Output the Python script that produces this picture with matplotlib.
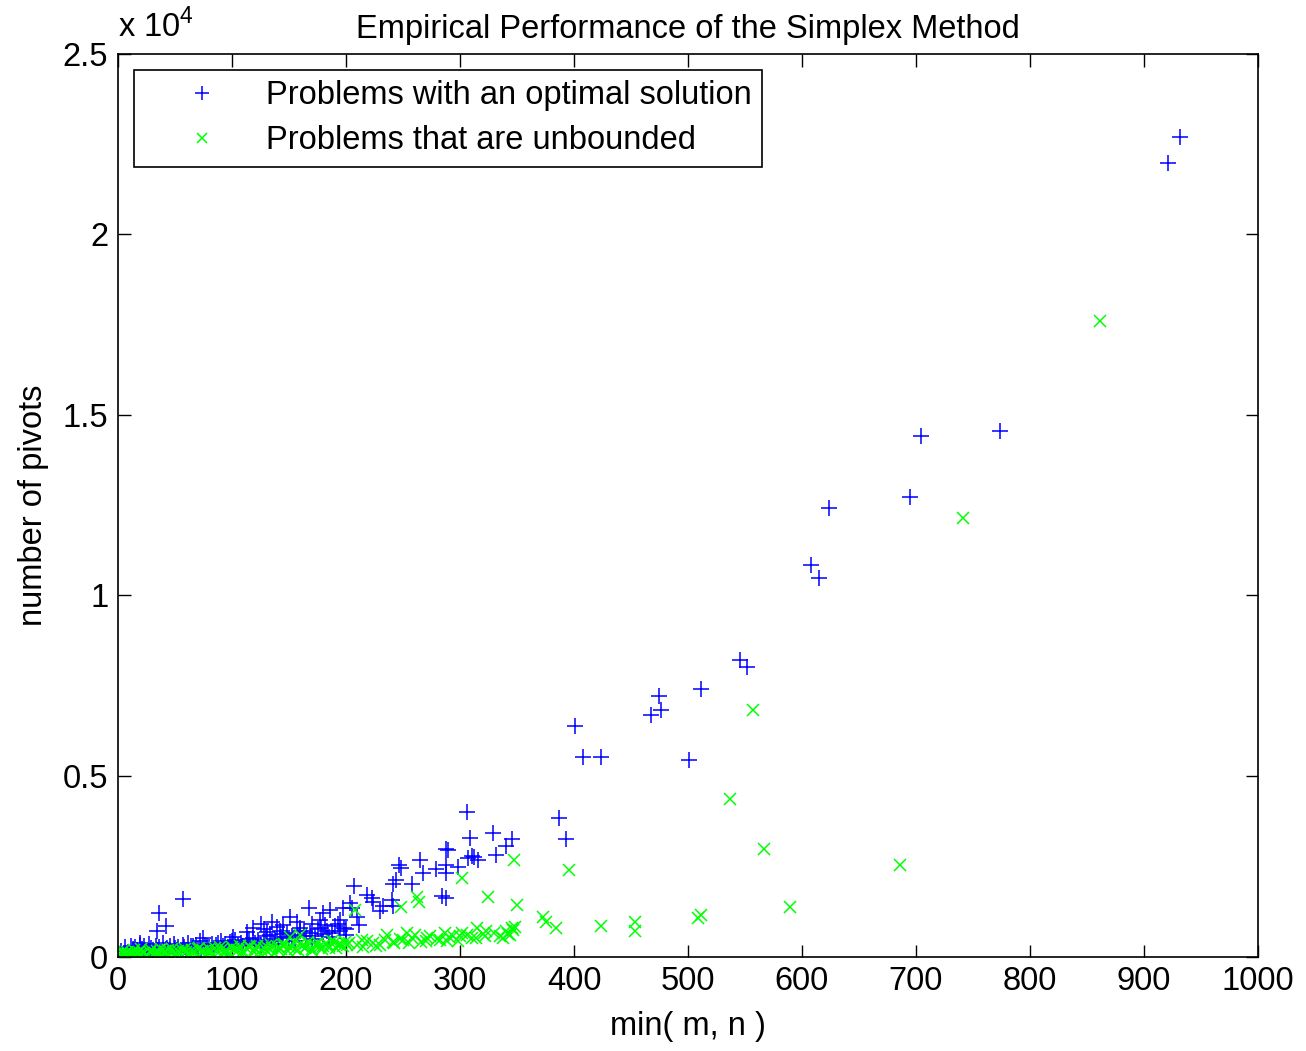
import numpy as np
import matplotlib
matplotlib.use("Agg")
import matplotlib.pyplot as plt

plt.rcParams['font.family'] = ['Liberation Sans', 'DejaVu Sans']

# problems with an optimal solution: min(m, n) and number of pivots
opt_x = [931.6, 921, 773.7, 704, 694.7, 623.7, 607.9, 615, 545.6, 551.8,
         511.4, 474.6, 476.3, 467.5, 500.9, 400.9, 407.9, 423.7, 386.8, 393,
         305.9, 308.8, 329.2, 345.3, 340.1, 331.3, 289.7, 288, 310.2, 307.3,
         312, 316, 298.5, 287.7, 287.7, 278.7, 264.9, 267.3, 257.6, 246.8,
         248, 243.6, 241.5, 207, 218.1, 222.5, 224, 232.7, 240, 241.5,
         205, 203.5, 211.4, 283.9, 287.7, 197.6,
         56.7, 36.3, 41.8, 33.9, 167.8, 180.1, 186, 177.2, 181.6, 156.7,
         150.9, 145, 139.2, 130.4, 118.7, 112.9, 101.2, 74.8, 19.3,
         125, 135, 128, 142, 160, 170, 195, 200, 210, 230,
         5, 8, 10, 12, 14, 16, 18, 20, 22, 24, 26, 28, 30, 32, 35, 38, 40,
         42, 45, 48, 50, 52, 55, 58, 60, 63, 66, 70, 73, 76, 80, 84, 88, 92,
         96, 100, 105, 110, 115, 120, 125, 130, 135, 140, 145, 150, 155, 160,
         165, 170, 175, 180, 185, 190, 195, 200,
         3, 6, 9, 11, 13, 15, 17, 19, 21, 23, 25, 27, 29, 31, 33, 36, 39, 43,
         46, 49, 53, 57, 61, 64, 68, 72, 78, 82, 86, 90, 94, 98, 103, 108, 113,
         118, 123, 128, 133, 138, 143, 148, 153, 158, 163, 168, 173, 178, 183,
         188, 193, 198]
opt_y = [22690, 21970, 14550, 14410, 12720, 12420, 10840, 10480, 8210, 8020,
         7410, 7210, 6830, 6690, 5440, 6380, 5520, 5520, 3835, 3250,
         3990, 3270, 3410, 3245, 3070, 2810, 2950, 2980, 2780, 2720,
         2750, 2670, 2470, 2530, 2300, 2415, 2670, 2300, 2010, 2530,
         2440, 2120, 2010, 1950, 1700, 1610, 1520, 1400, 1560, 1400,
         1335, 1470, 870, 1675, 1610, 1335,
         1584, 1213, 853, 706, 1352, 1196, 1288, 1011, 872, 964,
         1102, 872, 825, 687, 781, 687, 548, 504, 365,
         900, 950, 760, 700, 780, 900, 1000, 760, 1100, 1250,
         20, 40, 60, 30, 80, 50, 100, 70, 120, 90, 60, 150, 110, 80, 170, 130, 100,
         200, 150, 120, 230, 170, 140, 260, 190, 160, 300, 220, 180, 330, 250, 210,
         380, 290, 240, 420, 320, 280, 480, 380, 320, 560, 430, 360, 620, 500, 420,
         700, 560, 480, 760, 620, 540, 850, 700, 600,
         150, 250, 120, 300, 200, 260, 180, 330, 220, 280, 160, 350, 240, 190,
         300, 260, 370, 230, 290, 340, 260, 310, 380, 280, 330, 420, 300, 360,
         310, 440, 350, 400, 460, 380, 420, 520, 450, 400, 600, 480, 530, 650,
         560, 600, 720, 640, 580, 800, 700, 650, 900, 780]

# problems that are unbounded
unb_x = [861.4, 741.2, 557.3, 536.6, 566.7, 686.2, 589.5, 423.4, 453.5, 453.5,
         509, 511, 347.6, 301.5, 395.9, 324.3, 349.7, 261.9, 264.3, 248.2,
         207.9, 373, 375.4, 384.2, 315.2, 322.5, 345.3, 346.8, 348.2, 342.4,
         335.1, 310.8, 301.5, 294.2, 286.8, 288.3, 271.3, 260.5, 253.2, 247.4,
         235.7, 241.5, 224, 213.8, 215.2, 199.1, 200.6, 150.9, 160,
         3, 5, 7, 9, 11, 13, 15, 17, 19, 22, 25, 28, 31, 34, 37, 40, 44, 48,
         52, 56, 60, 65, 70, 75, 80, 85, 90, 95, 100, 105, 110, 115, 120, 125,
         130, 135, 140, 145, 150, 155, 160, 165, 170, 175, 180, 185, 190, 195,
         230, 255, 270, 280, 300, 320, 340,
         2, 4, 6, 8, 10, 12, 14, 16, 18, 20, 23, 26, 29, 32, 35, 38, 41, 44,
         47, 50, 53, 56, 59, 62, 65, 68, 71, 74, 77, 80, 83, 86, 89, 92, 95,
         98, 101, 104, 107, 110, 113, 116, 119, 122, 125, 128, 131, 134, 137,
         140, 143, 146, 149, 152, 155, 158, 161, 164, 167, 170, 173, 176, 179,
         182, 185, 188, 191, 194, 197, 203, 210, 218, 226, 234, 242, 250, 258,
         266, 274, 282, 290, 298, 306, 314, 322, 330, 338, 344]
unb_y = [17600, 12140, 6825, 4350, 2970, 2535, 1360, 853, 964, 706,
         1075, 1150, 2670, 2165, 2395, 1656, 1426, 1656, 1518, 1362,
         1288, 1102, 964, 781, 797, 714, 781, 734, 825, 623,
         568, 504, 642, 576, 642, 437, 504, 595, 659, 476,
         595, 410, 365, 457, 271, 410, 318, 548, 600,
         10, 30, 20, 50, 40, 70, 30, 90, 60, 110, 50, 130, 80, 150, 100, 60, 170, 120,
         80, 190, 130, 100, 210, 150, 110, 240, 170, 130, 260, 190, 150, 280, 210, 170,
         300, 230, 180, 320, 250, 200, 350, 270, 220, 380, 290, 240, 400, 310,
         330, 370, 420, 480, 560, 620, 700,
         80, 150, 60, 120, 0, 90, 170, 40, 130, 200, 100, 20, 180, 110, 60, 200,
         140, 30, 210, 90, 160, 40, 220, 110, 170, 60, 230, 140, 80, 200, 30, 160,
         250, 100, 190, 60, 220, 140, 280, 90, 200, 250, 130, 300, 80, 230, 160,
         310, 110, 260, 200, 340, 140, 280, 380, 180, 300, 240, 410, 160, 330,
         260, 200, 360, 300, 420, 230, 350, 280, 380, 330, 420, 300, 460, 380,
         450, 520, 400, 560, 460, 530, 420, 600, 500, 560, 640, 520, 600]

x_ticks = [0, 100, 200, 300, 400, 500, 600, 700, 800, 900, 1000]
y_ticks = [0, 5000, 10000, 15000, 20000, 25000]
y_tick_labels = ['0', '0.5', '1', '1.5', '2', '2.5']

fig = plt.figure(figsize=(13.06, 10.51), dpi=100)
ax = fig.add_axes([0.0904, 0.0899, 0.8728, 0.8591])

ax.plot(opt_x, opt_y, linestyle='none', marker='+', color=(0, 0, 1),
        markersize=12, markeredgewidth=1.1, label='Problems with an optimal solution')
ax.plot(unb_x, unb_y, linestyle='none', marker='x', color=(0, 1, 0),
        markersize=8, markeredgewidth=1.1, label='Problems that are unbounded')

ax.set_xlim(0, 1000)
ax.set_ylim(0, 25000)
ax.set_xticks(x_ticks)
ax.set_yticks(y_ticks)
ax.set_yticklabels(y_tick_labels)
ax.tick_params(direction='in', top=True, right=True, length=9, width=1,
               labelsize=23.5, pad=7)
for s in ax.spines.values():
    s.set_linewidth(1.2)

ax.text(0.0, 1.01, r'x 10$^{\mathregular{4}}$', transform=ax.transAxes,
        fontsize=23.5, ha='left', va='bottom')

ax.set_title('Empirical Performance of the Simplex Method', fontsize=23.5, pad=11)
ax.set_xlabel('min( m, n )', fontsize=23.5, labelpad=10)
ax.set_ylabel('number of pivots', fontsize=23.5, labelpad=10)

leg = ax.legend(loc='upper left', fontsize=23.5, fancybox=False, framealpha=1,
                edgecolor='black', borderaxespad=0.5, handlelength=3.5,
                handletextpad=0.2, borderpad=0.32, labelspacing=0.42,
                markerscale=0.85)
leg.get_frame().set_linewidth(1.2)

fig.savefig('out.png', dpi=100)
